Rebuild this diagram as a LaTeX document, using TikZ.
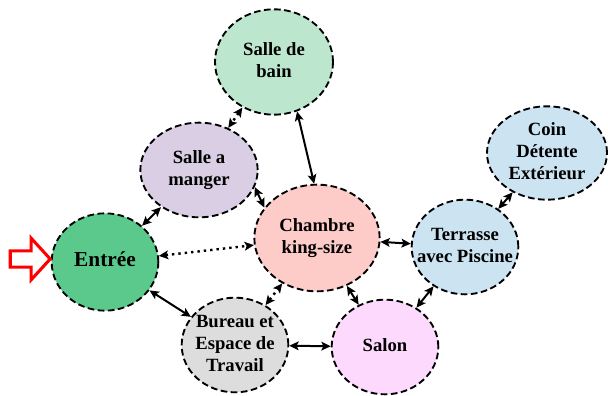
\documentclass[tikz,border=0pt]{standalone}
\usepackage{fontspec}
\setmainfont{Liberation Serif}
\usepackage{xcolor}
\usetikzlibrary{shapes.geometric, shapes.arrows, arrows.meta, positioning}

\definecolor{entreegreen}{HTML}{5BC98B}
\definecolor{baingreen}{HTML}{BDE6CF}
\definecolor{mangerlilac}{HTML}{D9CEE3}
\definecolor{chambrepink}{HTML}{FDCBC8}
\definecolor{terrasseblue}{HTML}{CCE4F2}
\definecolor{salonpink}{HTML}{FDD9FD}
\definecolor{bureaugray}{HTML}{DDDDDD}

% text may run past the ellipse border
\newcommand{\roomlines}[1]{\makebox[0pt]{\begin{tabular}{@{}c@{}}#1\end{tabular}}}

\begin{document}
\begin{tikzpicture}[
    on grid,
    room/.style={ellipse, draw, dash pattern=on 5pt off 2.6pt, line width=1.4pt, inner sep=0pt, font=\fontsize{14}{16.3}\selectfont\bfseries},
    arrow/.style={line width=1.5pt, <->, >={Stealth[length=7pt, width=6.5pt, inset=1.5pt]}},
    dotarrow/.style={arrow, dash pattern=on 1.8pt off 3pt, line width=1.8pt},
    entry/.style={single arrow, draw=red, fill=white, line width=2.3pt, minimum height=30pt, inner xsep=0pt, inner ysep=5pt, single arrow head extend=9.5pt, single arrow tip angle=95}
]
    \useasboundingbox (-78.75pt,-100.5pt) rectangle (377.25pt,196.5pt);

    % Rooms
    \node (entree) [room, fill=entreegreen, minimum width=80pt, minimum height=73pt, font=\fontsize{16}{18}\selectfont\bfseries] {\roomlines{Entrée}};
    \node (manger) [room, fill=mangerlilac, minimum width=88pt, minimum height=71pt, above right=69pt and 70.5pt of entree] {\roomlines{Salle a\\manger}};
    \node (bain) [room, fill=baingreen, minimum width=88.5pt, minimum height=79pt, above right=81pt and 56.25pt of manger] {\roomlines{Salle de\\bain}};
    \node (chambre) [room, fill=chambrepink, minimum width=94pt, minimum height=80pt, above right=18pt and 159pt of entree] {\roomlines{Chambre\\king-size}};
    \node (bureau) [room, fill=bureaugray, minimum width=80pt, minimum height=71pt, below right=62.25pt and 97.5pt of entree] {\roomlines{Bureau et\\Espace de\\Travail}};
    \node (salon) [room, fill=salonpink, minimum width=80pt, minimum height=71pt, below right=1.5pt and 112.5pt of bureau] {\roomlines{Salon}};
    \node (terrasse) [room, fill=terrasseblue, minimum width=80pt, minimum height=71pt, below right=6.75pt and 111pt of chambre] {\roomlines{Terrasse\\avec Piscine}};
    \node (coin) [room, fill=terrasseblue, minimum width=90pt, minimum height=70pt, above right=70.5pt and 61.5pt of terrasse] {\roomlines{Coin\\Détente\\Extérieur}};

    % Way in
    \node (enter) [entry, left=58.9pt of entree, yshift=2.25pt] {};

    % Links
    \draw [arrow] (entree) -- (manger);
    \draw [dotarrow] (entree) -- (chambre);
    \draw [arrow] (entree) -- (bureau);
    \draw [dotarrow] (bureau) -- (chambre);
    \draw [arrow] (bureau) -- (salon);
    \draw [arrow] (salon) -- (chambre);
    \draw [arrow] (salon) -- (terrasse);
    \draw [arrow] (chambre) -- (terrasse);
    \draw [arrow] (terrasse) -- (coin);
    \draw [arrow] (bain.-65) -- (chambre.93);
    \draw [arrow] (manger.-17) -- (chambre.150);
    \draw [dotarrow] (bain) -- (manger);

\end{tikzpicture}
\end{document}
